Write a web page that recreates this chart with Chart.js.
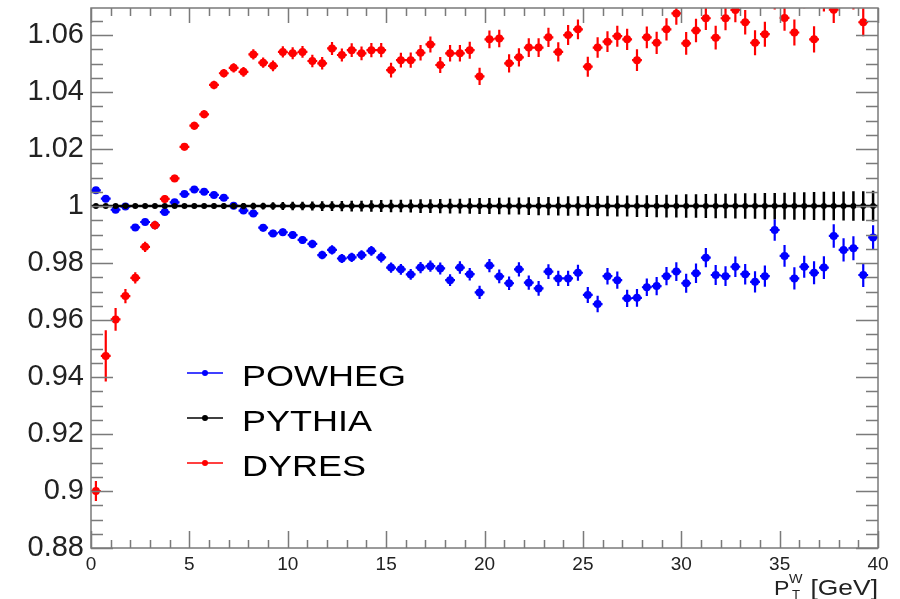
<!DOCTYPE html>
<html>
<head>
<meta charset="utf-8">
<title>W pT ratio</title>
<script src="https://cdn.jsdelivr.net/npm/chart.js@4.4.1/dist/chart.umd.min.js"></script>
<style>
  html, body { margin: 0; padding: 0; background: #fff; }
  #wrap { width: 900px; height: 599px; }
</style>
</head>
<body>
<div id="wrap"><canvas id="ratioChart" width="900" height="599"></canvas></div>
<script>
// bin centres in GeV (0.5 GeV bins)
const binCenters = [
  0.25, 0.75, 1.25, 1.75, 2.25, 2.75, 3.25, 3.75, 4.25, 4.75,
  5.25, 5.75, 6.25, 6.75, 7.25, 7.75, 8.25, 8.75, 9.25, 9.75,
  10.25, 10.75, 11.25, 11.75, 12.25, 12.75, 13.25, 13.75, 14.25, 14.75,
  15.25, 15.75, 16.25, 16.75, 17.25, 17.75, 18.25, 18.75, 19.25, 19.75,
  20.25, 20.75, 21.25, 21.75, 22.25, 22.75, 23.25, 23.75, 24.25, 24.75,
  25.25, 25.75, 26.25, 26.75, 27.25, 27.75, 28.25, 28.75, 29.25, 29.75,
  30.25, 30.75, 31.25, 31.75, 32.25, 32.75, 33.25, 33.75, 34.25, 34.75,
  35.25, 35.75, 36.25, 36.75, 37.25, 37.75, 38.25, 38.75, 39.25, 39.75
];

const powheg = [
  1.0055, 1.0026, 0.9987, 0.9998, 0.9925, 0.9944, 0.9933, 0.9979, 1.0013, 1.0042,
  1.0058, 1.0050, 1.0039, 1.0029, 1.0001, 0.9984, 0.9974, 0.9924, 0.9904, 0.9908,
  0.9898, 0.9881, 0.9867, 0.9828, 0.9846, 0.9816, 0.9820, 0.9828, 0.9843, 0.9820,
  0.9784, 0.9778, 0.9760, 0.9784, 0.9789, 0.9781, 0.9740, 0.9784, 0.9761, 0.9697,
  0.9791, 0.9753, 0.9729, 0.9778, 0.9731, 0.9711, 0.9770, 0.9746, 0.9746, 0.9766,
  0.9688, 0.9656, 0.9754, 0.9740, 0.9676, 0.9678, 0.9715, 0.9719, 0.9754, 0.9770,
  0.9729, 0.9764, 0.9819, 0.9758, 0.9754, 0.9787, 0.9761, 0.9734, 0.9754, 0.9916,
  0.9825, 0.9746, 0.9787, 0.9766, 0.9784, 0.9895, 0.9846, 0.9852, 0.9758, 0.9890
];
const powhegErr = [
  0.0008, 0.0008, 0.0008, 0.0008, 0.0009, 0.0009, 0.0009, 0.0009, 0.0010, 0.0010,
  0.0010, 0.0011, 0.0011, 0.0011, 0.0012, 0.0012, 0.0012, 0.0013, 0.0013, 0.0013,
  0.0014, 0.0014, 0.0015, 0.0015, 0.0016, 0.0016, 0.0016, 0.0017, 0.0017, 0.0018,
  0.0018, 0.0019, 0.0019, 0.0020, 0.0020, 0.0021, 0.0021, 0.0022, 0.0022, 0.0023,
  0.0023, 0.0024, 0.0024, 0.0025, 0.0025, 0.0026, 0.0026, 0.0027, 0.0027, 0.0028,
  0.0028, 0.0029, 0.0029, 0.0030, 0.0030, 0.0031, 0.0031, 0.0032, 0.0032, 0.0033,
  0.0033, 0.0034, 0.0034, 0.0035, 0.0035, 0.0036, 0.0036, 0.0037, 0.0037, 0.0038,
  0.0038, 0.0039, 0.0039, 0.0040, 0.0040, 0.0041, 0.0041, 0.0042, 0.0042, 0.0043
];

// reference sample, ratio to itself
const pythia = [
  1, 1, 1, 1, 1, 1, 1, 1, 1, 1,
  1, 1, 1, 1, 1, 1, 1, 1, 1, 1,
  1, 1, 1, 1, 1, 1, 1, 1, 1, 1,
  1, 1, 1, 1, 1, 1, 1, 1, 1, 1,
  1, 1, 1, 1, 1, 1, 1, 1, 1, 1,
  1, 1, 1, 1, 1, 1, 1, 1, 1, 1,
  1, 1, 1, 1, 1, 1, 1, 1, 1, 1,
  1, 1, 1, 1, 1, 1, 1, 1, 1, 1
];
const pythiaErr = [
  0.0003, 0.0003, 0.0004, 0.0004, 0.0005, 0.0005, 0.0006, 0.0006, 0.0007, 0.0007,
  0.0008, 0.0008, 0.0009, 0.0010, 0.0010, 0.0011, 0.0012, 0.0012, 0.0013, 0.0014,
  0.0015, 0.0015, 0.0016, 0.0017, 0.0017, 0.0018, 0.0019, 0.0019, 0.0020, 0.0021,
  0.0022, 0.0022, 0.0023, 0.0024, 0.0024, 0.0025, 0.0026, 0.0026, 0.0027, 0.0028,
  0.0028, 0.0029, 0.0030, 0.0030, 0.0031, 0.0032, 0.0032, 0.0033, 0.0034, 0.0034,
  0.0035, 0.0035, 0.0036, 0.0037, 0.0037, 0.0038, 0.0038, 0.0039, 0.0040, 0.0040,
  0.0041, 0.0041, 0.0042, 0.0043, 0.0043, 0.0044, 0.0045, 0.0045, 0.0046, 0.0046,
  0.0047, 0.0048, 0.0048, 0.0049, 0.0050, 0.0050, 0.0051, 0.0052, 0.0052, 0.0054
];

// values above 1.07 fall outside the frame
const dyres = [
  0.9000, 0.9474, 0.9602, 0.9684, 0.9748, 0.9857, 0.9933, 1.0025, 1.0097, 1.0208,
  1.0282, 1.0322, 1.0425, 1.0466, 1.0485, 1.0471, 1.0532, 1.0503, 1.0492, 1.0541,
  1.0536, 1.0541, 1.0509, 1.0501, 1.0553, 1.0530, 1.0547, 1.0536, 1.0547, 1.0547,
  1.0477, 1.0512, 1.0512, 1.0538, 1.0567, 1.0495, 1.0536, 1.0536, 1.0547, 1.0455,
  1.0585, 1.0588, 1.0501, 1.0522, 1.0556, 1.0556, 1.0592, 1.0541, 1.0600, 1.0620,
  1.0489, 1.0556, 1.0577, 1.0596, 1.0585, 1.0512, 1.0592, 1.0573, 1.0620, 1.0676,
  1.0571, 1.0616, 1.0659, 1.0591, 1.0659, 1.0688, 1.0645, 1.0573, 1.0603, 1.0735,
  1.0660, 1.0609, 1.0740, 1.0585, 1.0730, 1.0689, 1.0745, 1.0738, 1.0645, 1.0750
];
const dyresErr = [
  0.0035, 0.0090, 0.0040, 0.0025, 0.0020, 0.0018, 0.0015, 0.0014, 0.0013, 0.0013,
  0.0014, 0.0014, 0.0015, 0.0015, 0.0016, 0.0017, 0.0018, 0.0018, 0.0019, 0.0020,
  0.0021, 0.0021, 0.0022, 0.0022, 0.0023, 0.0023, 0.0024, 0.0024, 0.0025, 0.0025,
  0.0026, 0.0026, 0.0027, 0.0027, 0.0028, 0.0028, 0.0029, 0.0029, 0.0030, 0.0030,
  0.0031, 0.0031, 0.0032, 0.0032, 0.0033, 0.0033, 0.0034, 0.0034, 0.0035, 0.0035,
  0.0035, 0.0036, 0.0036, 0.0037, 0.0037, 0.0038, 0.0038, 0.0039, 0.0039, 0.0040,
  0.0040, 0.0041, 0.0041, 0.0042, 0.0042, 0.0043, 0.0043, 0.0044, 0.0044, 0.0045,
  0.0045, 0.0046, 0.0046, 0.0046, 0.0047, 0.0047, 0.0048, 0.0048, 0.0049, 0.0049
];

const X_MIN = 0, X_MAX = 40;
const Y_MIN = 0.88, Y_MAX = 1.0695;
const BIN_HALF = 0.25;
const FONT = '"Liberation Sans", Arial, Helvetica, sans-serif';

function toPoints(vals) {
  return binCenters.map(function (x, i) { return { x: x, y: vals[i] }; });
}

function series(label, vals, errs, color, radius, barWidth, order) {
  return {
    label: label,
    data: toPoints(vals),
    errors: errs,
    barWidth: barWidth,
    order: order,
    pointRadius: radius,
    pointHoverRadius: radius,
    pointBackgroundColor: color,
    pointBorderColor: color,
    pointBorderWidth: 0,
    borderColor: color,
    backgroundColor: color,
    showLine: false
  };
}

// draws text stretched sideways
function drawText(ctx, text, x, y, size, sx, align) {
  ctx.save();
  ctx.font = size + 'px ' + FONT;
  ctx.textAlign = align || 'left';
  ctx.translate(x, y);
  ctx.scale(sx, 1);
  ctx.fillText(text, 0, 0);
  ctx.restore();
}

// bin-width and stat error bars, under each dataset's markers
const errorBars = {
  id: 'errorBars',
  beforeDatasetDraw(chart, args) {
    const ds = chart.data.datasets[args.index];
    const ctx = chart.ctx, a = chart.chartArea;
    const x = chart.scales.x, y = chart.scales.y;
    ctx.save();
    ctx.beginPath();
    ctx.rect(a.left, a.top, a.right - a.left, a.bottom - a.top);
    ctx.clip();
    ctx.strokeStyle = ds.borderColor;
    ctx.lineWidth = ds.barWidth;
    ctx.beginPath();
    ds.data.forEach(function (p, i) {
      const e = ds.errors[i];
      const px = x.getPixelForValue(p.x), py = y.getPixelForValue(p.y);
      ctx.moveTo(x.getPixelForValue(p.x - BIN_HALF), py);
      ctx.lineTo(x.getPixelForValue(p.x + BIN_HALF), py);
      ctx.moveTo(px, y.getPixelForValue(p.y - e));
      ctx.lineTo(px, y.getPixelForValue(p.y + e));
    });
    ctx.stroke();
    ctx.restore();
  }
};

// frame with inward tick marks on all four sides
const frameTicks = {
  id: 'frameTicks',
  afterDatasetsDraw(chart) {
    const ctx = chart.ctx, a = chart.chartArea;
    const x = chart.scales.x, y = chart.scales.y;
    ctx.save();
    ctx.strokeStyle = '#7a7a7a';
    ctx.lineWidth = 1.5;
    ctx.strokeRect(a.left, a.top, a.right - a.left, a.bottom - a.top);
    ctx.beginPath();
    for (let v = X_MIN; v <= X_MAX; v += 1) {
      const px = Math.round(x.getPixelForValue(v)) + 0.5;
      const major = v % 5 === 0;
      ctx.moveTo(px, a.bottom); ctx.lineTo(px, a.bottom - (major ? 17 : 8));
      ctx.moveTo(px, a.top); ctx.lineTo(px, a.top + (major ? 15 : 8));
    }
    for (let k = 0; ; k++) {
      const v = Y_MIN + k * 0.005;
      if (v > Y_MAX) break;
      const py = Math.round(y.getPixelForValue(v)) + 0.5;
      const len = k % 4 === 0 ? 22 : 12;
      ctx.moveTo(a.left, py); ctx.lineTo(a.left + len, py);
      ctx.moveTo(a.right, py); ctx.lineTo(a.right - len, py);
    }
    ctx.stroke();
    ctx.restore();
  }
};

// legend inside the frame + x axis title
const legendAndTitle = {
  id: 'legendAndTitle',
  afterDraw(chart) {
    const ctx = chart.ctx;
    const rows = [0, 1, 2].map(function (i) { return chart.data.datasets[i]; });
    ctx.save();
    rows.forEach(function (ds, i) {
      const ly = 373 + i * 45;
      ctx.strokeStyle = ds.borderColor;
      ctx.lineWidth = 1.5;
      ctx.beginPath();
      ctx.moveTo(187, ly); ctx.lineTo(223, ly);
      ctx.stroke();
      ctx.fillStyle = ds.borderColor;
      ctx.beginPath();
      ctx.arc(205, ly, 3, 0, Math.PI * 2);
      ctx.fill();
      ctx.fillStyle = '#000';
      drawText(ctx, ds.label, 242, ly + 13, 30, 1.2);
    });

    ctx.fillStyle = '#222';
    drawText(ctx, 'P', 774, 595, 21, 1.1);
    drawText(ctx, 'W', 789, 583, 13, 1.1);
    drawText(ctx, 'T', 792, 599, 12, 1.1);
    drawText(ctx, '[GeV]', 878, 595, 22, 1.2, 'right');
    ctx.restore();
  }
};

const ctx = document.getElementById('ratioChart').getContext('2d');
const ratioChart = new Chart(ctx, {
  type: 'scatter',
  data: {
    datasets: [
      series('POWHEG', powheg, powhegErr, '#0000ff', 4, 2.2, 2),
      series('PYTHIA', pythia, pythiaErr, '#000000', 3, 2.5, 0),
      series('DYRES', dyres, dyresErr, '#ff0000', 4, 2.2, 1)
    ]
  },
  options: {
    responsive: false,
    animation: false,
    events: [],
    layout: { padding: { top: 8, right: 22, left: 0, bottom: 0 } },
    plugins: {
      legend: { display: false },
      tooltip: { enabled: false }
    },
    scales: {
      x: {
        type: 'linear',
        min: X_MIN,
        max: X_MAX,
        grid: { display: false, drawTicks: false },
        border: { display: false },
        ticks: {
          stepSize: 5,
          padding: 5,
          color: '#222',
          font: { family: FONT, size: 19 },
          callback: function (v) { return String(v); }
        },
        afterFit: function (scale) {
          scale.height = 51;
          scale.paddingLeft = 0;
          scale.paddingRight = 0;
        }
      },
      y: {
        type: 'linear',
        min: Y_MIN,
        max: Y_MAX,
        grid: { display: false, drawTicks: false },
        border: { display: false },
        ticks: {
          stepSize: 0.02,
          includeBounds: false,
          padding: 7,
          color: '#222',
          font: { family: FONT, size: 29 },
          callback: function (v) { return String(Number(v.toFixed(2))); }
        },
        afterFit: function (scale) {
          scale.width = 91;
          scale.paddingTop = 0;
          scale.paddingBottom = 0;
        }
      }
    }
  },
  plugins: [errorBars, frameTicks, legendAndTitle]
});
</script>
</body>
</html>
